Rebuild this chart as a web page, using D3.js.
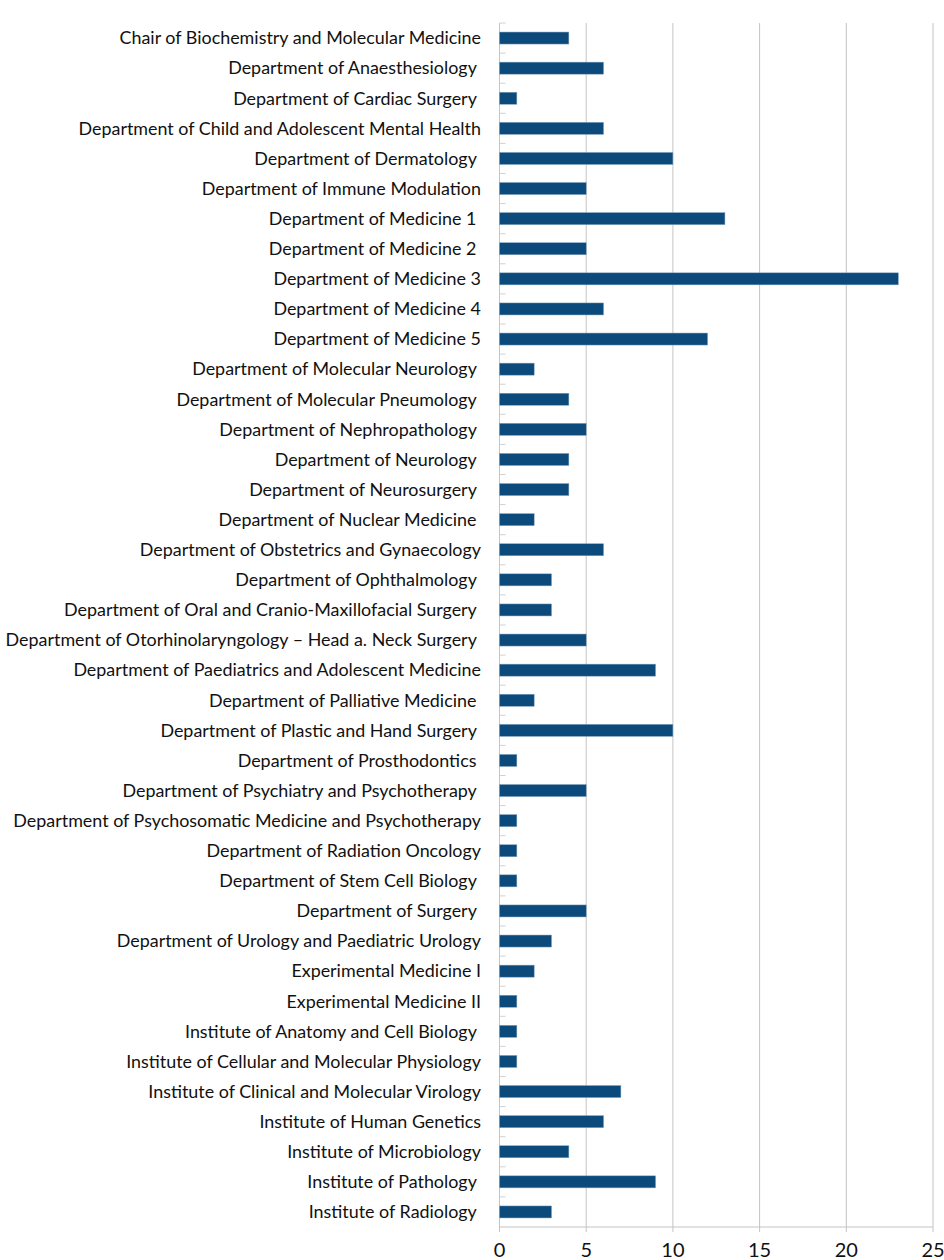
<!DOCTYPE html>
<html><head><meta charset="utf-8">
<script src="https://cdn.jsdelivr.net/npm/d3@7"></script>
<style>
html,body{margin:0;padding:0;background:#fff;}
svg text{white-space:pre;}
</style></head>
<body><svg id="c" width="944" height="1260"></svg>
<script>
const categories = [
"Chair of Biochemistry and Molecular Medicine",
"Department of Anaesthesiology ",
"Department of Cardiac Surgery ",
"Department of Child and Adolescent Mental Health",
"Department of Dermatology ",
"Department of Immune Modulation",
"Department of Medicine 1 ",
"Department of Medicine 2 ",
"Department of Medicine 3",
"Department of Medicine 4",
"Department of Medicine 5",
"Department of Molecular Neurology ",
"Department of Molecular Pneumology ",
"Department of Nephropathology ",
"Department of Neurology ",
"Department of Neurosurgery ",
"Department of Nuclear Medicine ",
"Department of Obstetrics and Gynaecology",
"Department of Ophthalmology ",
"Department of Oral and Cranio-Maxillofacial Surgery ",
"Department of Otorhinolaryngology \u2013 Head a. Neck Surgery ",
"Department of Paediatrics and Adolescent Medicine",
"Department of Palliative Medicine ",
"Department of Plastic and Hand Surgery ",
"Department of Prosthodontics ",
"Department of Psychiatry and Psychotherapy ",
"Department of Psychosomatic Medicine and Psychotherapy",
"Department of Radiation Oncology",
"Department of Stem Cell Biology ",
"Department of Surgery ",
"Department of Urology and Paediatric Urology",
"Experimental Medicine I",
"Experimental Medicine II",
"Institute of Anatomy and Cell Biology ",
"Institute of Cellular and Molecular Physiology",
"Institute of Clinical and Molecular Virology",
"Institute of Human Genetics",
"Institute of Microbiology",
"Institute of Pathology ",
"Institute of Radiology "
];
const values = [4,6,1,6,10,5,13,5,23,6,12,2,4,5,4,4,2,6,3,3,5,9,2,10,1,5,1,1,1,5,3,2,1,1,1,7,6,4,9,3];
const xTicks = [0,5,10,15,20,25];

const svg = d3.select("#c");
const m = {left:499.5, right:933, top:23, bottom:1227};
const x = d3.scaleLinear().domain([0,25]).range([m.left, m.right]);
const yb = d3.scaleBand().domain(categories).range([m.top, m.bottom]);

// gridlines
svg.append("g").selectAll("line").data(xTicks.slice(1)).join("line")
  .attr("x1", d=>x(d)).attr("x2", d=>x(d)).attr("y1", m.top).attr("y2", m.bottom+5)
  .attr("stroke", "#c4c4c4").attr("stroke-width", 1);

// axis lines
svg.append("line").attr("x1", m.left).attr("x2", m.right).attr("y1", m.bottom).attr("y2", m.bottom)
  .attr("stroke", "#c4c4c4");
svg.append("line").attr("x1", x(0)).attr("x2", x(0)).attr("y1", m.top).attr("y2", m.bottom+5)
  .attr("stroke", "#c4c4c4");
// y ticks (category boundaries)
svg.append("g").selectAll("line").data(categories).join("line")
  .attr("x1", m.left).attr("x2", m.left+6).attr("y1", d=>yb(d)).attr("y2", d=>yb(d))
  .attr("stroke", "#d0d0d0");

// bars
svg.append("g").selectAll("rect").data(values).join("rect")
  .attr("x", x(0)).attr("y", (d,i)=>yb(categories[i]) + yb.bandwidth()/2 - 6)
  .attr("width", d=>x(d)-x(0)).attr("height", 12)
  .attr("fill", "#0c4a7b").attr("stroke", "#7c9fbd").attr("stroke-width", 0.5);

// category labels
svg.append("g").selectAll("text").data(categories).join("text")
  .attr("x", 481).attr("y", d=>yb(d)+yb.bandwidth()/2)
  .attr("dy", "0.35em").attr("text-anchor", "end")
  .attr("font-family", "Lato, 'Open Sans', sans-serif").attr("font-size", 17.9).attr("fill", "#111")
  .text(d=>d);

// x tick labels
svg.append("g").selectAll("text").data(xTicks).join("text")
  .attr("x", d=>x(d)).attr("y", 1250).attr("dy", "0.35em").attr("text-anchor", "middle")
  .attr("font-family", "Lato, 'Open Sans', sans-serif").attr("font-size", 20).attr("fill", "#111")
  .text(d=>d);
</script></body></html>
